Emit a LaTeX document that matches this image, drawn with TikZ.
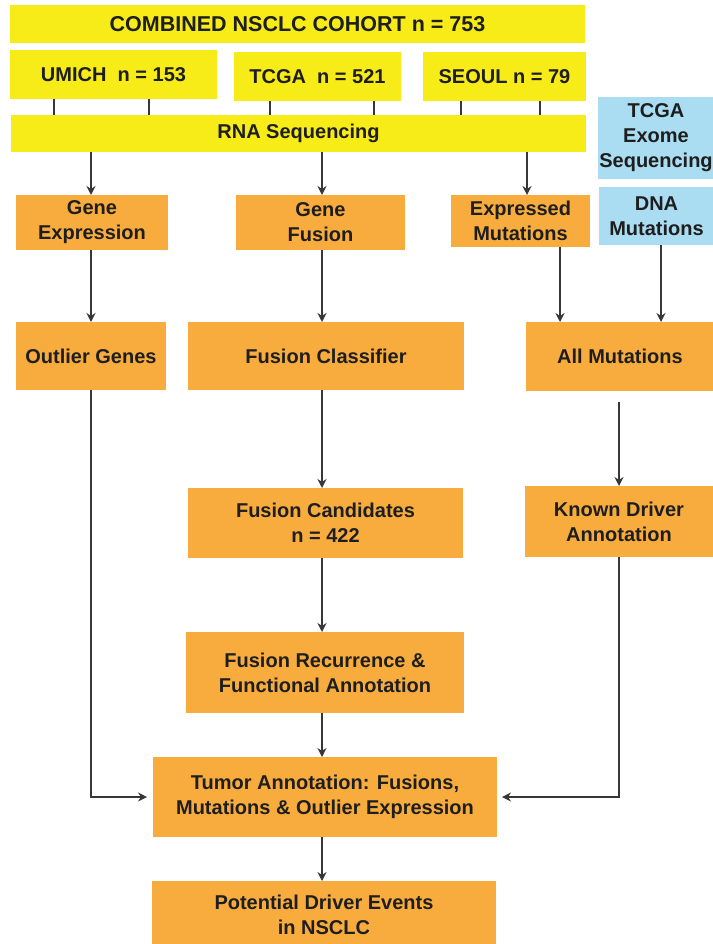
\documentclass[tikz,border=0pt]{standalone}
\usepackage{fontspec}
\setmainfont{Liberation Sans}
\usetikzlibrary{arrows.meta,calc}
\definecolor{ylw}{RGB}{247,236,24}
\definecolor{org}{RGB}{248,172,62}
\definecolor{blu}{RGB}{170,220,242}
\definecolor{ink}{RGB}{30,30,30}
\definecolor{lin}{RGB}{55,55,55}
\tikzset{
  base/.style={inner sep=0pt, outer sep=0pt, align=center, text=ink,
    font=\bfseries\fontsize{20}{25}\selectfont},
  ybox/.style={base, fill=ylw},
  obox/.style={base, fill=org},
  bbox/.style={base, fill=blu},
  arr/.style={draw=lin, line width=1.4pt, -{Stealth[length=9pt,width=9pt,inset=3pt]}},
  tick/.style={draw=lin, line width=1.4pt},
}
\begin{document}
\begin{tikzpicture}[x=1pt,y=-1pt]
\useasboundingbox (0,0) rectangle (712,944);
% top yellow
\node[ybox, minimum width=575, minimum height=38, font=\bfseries\fontsize{21.5}{25}\selectfont] (comb) at (297.5,24) {COMBINED NSCLC COHORT n = 753};
\node[ybox, minimum width=207, minimum height=49] (umich) at (113.5,74.5) {UMICH\ \ n = 153};
\node[ybox, minimum width=167, minimum height=49] (tcga) at (317.5,76.5) {TCGA\ \ n = 521};
\node[ybox, minimum width=163, minimum height=49] (seoul) at (504.5,76.5) {SEOUL n = 79};
\node[ybox, minimum width=575, minimum height=37] (rna) at (298.5,133.5) {RNA Sequencing};
% blue
\node[bbox, minimum width=116, minimum height=82] (exome) at (656,138) {TCGA\\Exome\\Sequencing};
\node[bbox, minimum width=115, minimum height=58] (dna) at (656.5,216) {DNA\\Mutations};
% orange row 1
\node[obox, minimum width=152, minimum height=55] (ge) at (92,222.5) {Gene\\Expression};
\node[obox, minimum width=169, minimum height=55] (gf) at (320.5,222.5) {Gene\\Fusion};
\node[obox, minimum width=139, minimum height=52] (em) at (520.5,221) {Expressed\\Mutations};
% row 2
\node[obox, minimum width=150, minimum height=68] (og) at (91,356) {Outlier Genes};
\node[obox, minimum width=276, minimum height=68] (fc) at (326,356) {Fusion Classifier};
\node[obox, minimum width=188, minimum height=69] (am) at (620,356.5) {All Mutations};
% row 3
\node[obox, minimum width=275, minimum height=70] (fcand) at (325.5,523) {Fusion Candidates\\n = 422};
\node[obox, minimum width=188, minimum height=71] (kd) at (619,521.5) {Known Driver\\Annotation};
% row 4
\node[obox, minimum width=278, minimum height=81] (fr) at (325,672.5) {Fusion Recurrence \&\\Functional Annotation};
\node[obox, minimum width=344, minimum height=80] (tu) at (325,797) {Tumor Annotation: Fusions,\\Mutations \& Outlier Expression};
\node[obox, minimum width=344, minimum height=67] (pd) at (324,914.5) {Potential Driver Events\\in NSCLC};
% column coordinates
\coordinate (cA) at (91,0);
\coordinate (cB) at (322,0);
\coordinate (cC) at (527,0);
\coordinate (cD) at (560,0);
\coordinate (cE) at (661,0);
\coordinate (cF) at (619,0);
\coordinate (t1) at (54,0);
\coordinate (t2) at (149,0);
\coordinate (t3) at (270,0);
\coordinate (t4) at (374,0);
\coordinate (t5) at (461,0);
\coordinate (t6) at (540,0);
% ticks
\draw[tick] (umich.south -| t1) -- (rna.north -| t1);
\draw[tick] (umich.south -| t2) -- (rna.north -| t2);
\draw[tick] (tcga.south -| t3) -- (rna.north -| t3);
\draw[tick] (tcga.south -| t4) -- (rna.north -| t4);
\draw[tick] (seoul.south -| t5) -- (rna.north -| t5);
\draw[tick] (seoul.south -| t6) -- (rna.north -| t6);
% arrows
\draw[arr] (rna.south -| cA) -- (ge.north -| cA);
\draw[arr] (rna.south -| cB) -- (gf.north -| cB);
\draw[arr] (rna.south -| cC) -- (em.north -| cC);
\draw[arr] (ge.south -| cA) -- (og.north -| cA);
\draw[arr] (gf.south -| cB) -- (fc.north -| cB);
\draw[arr] (em.south -| cD) -- (am.north -| cD);
\draw[arr] (dna.south -| cE) -- (am.north -| cE);
\draw[arr] (fc.south -| cB) -- (fcand.north -| cB);
\draw[arr] ([yshift=-11pt]am.south -| cF) -- (kd.north -| cF);
\draw[arr] (fcand.south -| cB) -- (fr.north -| cB);
\draw[arr] (fr.south -| cB) -- (tu.north -| cB);
\draw[arr] (tu.south -| cB) -- (pd.north -| cB);
\draw[arr] (og.south -| cA) |- ([xshift=-6pt]tu.west);
\draw[arr] (kd.south -| cF) |- ([xshift=5pt]tu.east);
\end{tikzpicture}
\end{document}
